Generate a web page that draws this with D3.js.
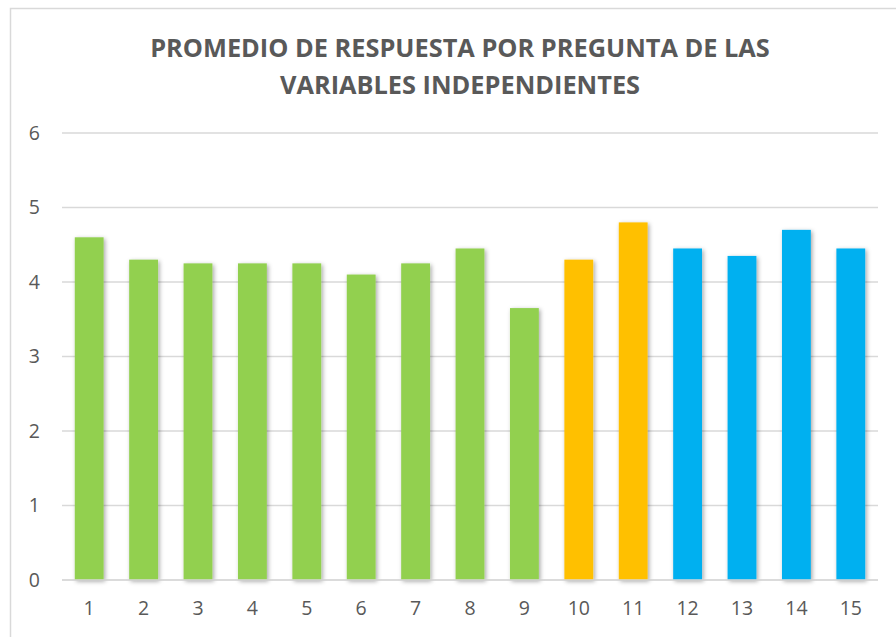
<!DOCTYPE html>
<html>
<head>
  <meta charset="utf-8">
  <title>Promedio de respuesta</title>
  <script src="https://cdn.jsdelivr.net/npm/d3@7/dist/d3.min.js"></script>
  <style>
    body { margin: 0; background: #fff; }
    text { font-family: "Open Sans", "Liberation Sans", sans-serif; }
  </style>
</head>
<body>
  <div id="chart"></div>
  <script>
    // values
    const preguntas = ["1", "2", "3", "4", "5", "6", "7", "8", "9", "10", "11", "12", "13", "14", "15"]
    const promedios = [4.6, 4.3, 4.25, 4.25, 4.25, 4.1, 4.25, 4.45, 3.65, 4.3, 4.8, 4.45, 4.35, 4.7, 4.45]
    const grupos = ["verde", "verde", "verde", "verde", "verde", "verde", "verde", "verde", "verde",
                    "naranja", "naranja", "azul", "azul", "azul", "azul"]
    const yTicks = [0, 1, 2, 3, 4, 5, 6]
    const titleLines = ["PROMEDIO DE RESPUESTA POR PREGUNTA DE LAS", "VARIABLES INDEPENDIENTES"]

    const colorOf = { verde: "#92D050", naranja: "#FFC000", azul: "#00B0F0" }

    const width = 896
    const height = 637
    const plot = { left: 62, right: 878, top: 133, bottom: 580 }

    const svg = d3.select("#chart")
      .append("svg")
      .attr("width", width)
      .attr("height", height)

    const defs = svg.append("defs")
    const shadow = defs.append("filter")
      .attr("id", "sombra")
      .attr("x", "-30%").attr("y", "-10%")
      .attr("width", "160%").attr("height", "130%")
    shadow.append("feDropShadow")
      .attr("dx", 1.5).attr("dy", 1.5)
      .attr("stdDeviation", 2)
      .attr("flood-color", "#000")
      .attr("flood-opacity", 0.35)

    // chart area border
    svg.append("rect")
      .attr("x", 10.5).attr("y", 8.5)
      .attr("width", 900).attr("height", 650)
      .attr("fill", "none")
      .attr("stroke", "#d9d9d9")
      .attr("stroke-width", 1.5)

    const x = d3.scaleBand()
      .domain(preguntas)
      .range([plot.left, plot.right])
      .paddingInner(0.47)
      .paddingOuter(0.235)

    const y = d3.scaleLinear()
      .domain([0, 6])
      .range([plot.bottom, plot.top])

    // gridlines
    svg.append("g")
      .selectAll("line")
      .data(yTicks)
      .enter()
      .append("line")
      .attr("x1", plot.left)
      .attr("x2", plot.right)
      .attr("y1", d => y(d))
      .attr("y2", d => y(d))
      .style("stroke", "#d9d9d9")
      .style("stroke-width", 1.5)

    // bars
    svg.append("g")
      .selectAll("rect")
      .data(preguntas)
      .enter()
      .append("rect")
      .attr("x", d => x(d))
      .attr("width", x.bandwidth())
      .attr("y", (d, i) => y(promedios[i]))
      .attr("height", (d, i) => y(0) - y(promedios[i]))
      .attr("fill", (d, i) => colorOf[grupos[i]])
      .attr("filter", "url(#sombra)")

    // zero axis line
    svg.append("line")
      .attr("x1", plot.left).attr("x2", plot.right)
      .attr("y1", y(0)).attr("y2", y(0))
      .style("stroke", "#d9d9d9")
      .style("stroke-width", 1.5)

    // y axis labels
    const yAxis = d3.axisLeft(y).tickValues(yTicks).tickSize(0).tickPadding(0).tickFormat(d3.format("d"))
    const yg = svg.append("g")
      .attr("transform", `translate(40,0)`)
      .call(yAxis)
    yg.select(".domain").remove()
    yg.selectAll("text")
      .attr("fill", "#595959")
      .style("font-size", "19.5px")
      .style("font-family", "\"Open Sans\", sans-serif")

    // x axis labels
    const xAxis = d3.axisBottom(x).tickSize(0).tickPadding(0)
    const xg = svg.append("g")
      .attr("transform", `translate(0,${plot.bottom + 21})`)
      .call(xAxis)
    xg.select(".domain").remove()
    xg.selectAll("text")
      .attr("fill", "#595959")
      .style("font-size", "19.5px")
      .style("font-family", "\"Open Sans\", sans-serif")

    // title
    const title = svg.append("g")
      .selectAll("text")
      .data(titleLines)
      .enter()
      .append("text")
      .attr("x", 460)
      .attr("y", (d, i) => 57 + i * 37)
      .attr("text-anchor", "middle")
      .attr("fill", "#595959")
      .style("font-weight", "bold")
      .style("font-size", "22px")
      .text(d => d)

    // fit the first line to the width it has in the picture
    const first = title.nodes()[0]
    const w = first.getComputedTextLength()
    const size = 22 * 620 / w
    title.style("font-size", size + "px")
  </script>
</body>
</html>
